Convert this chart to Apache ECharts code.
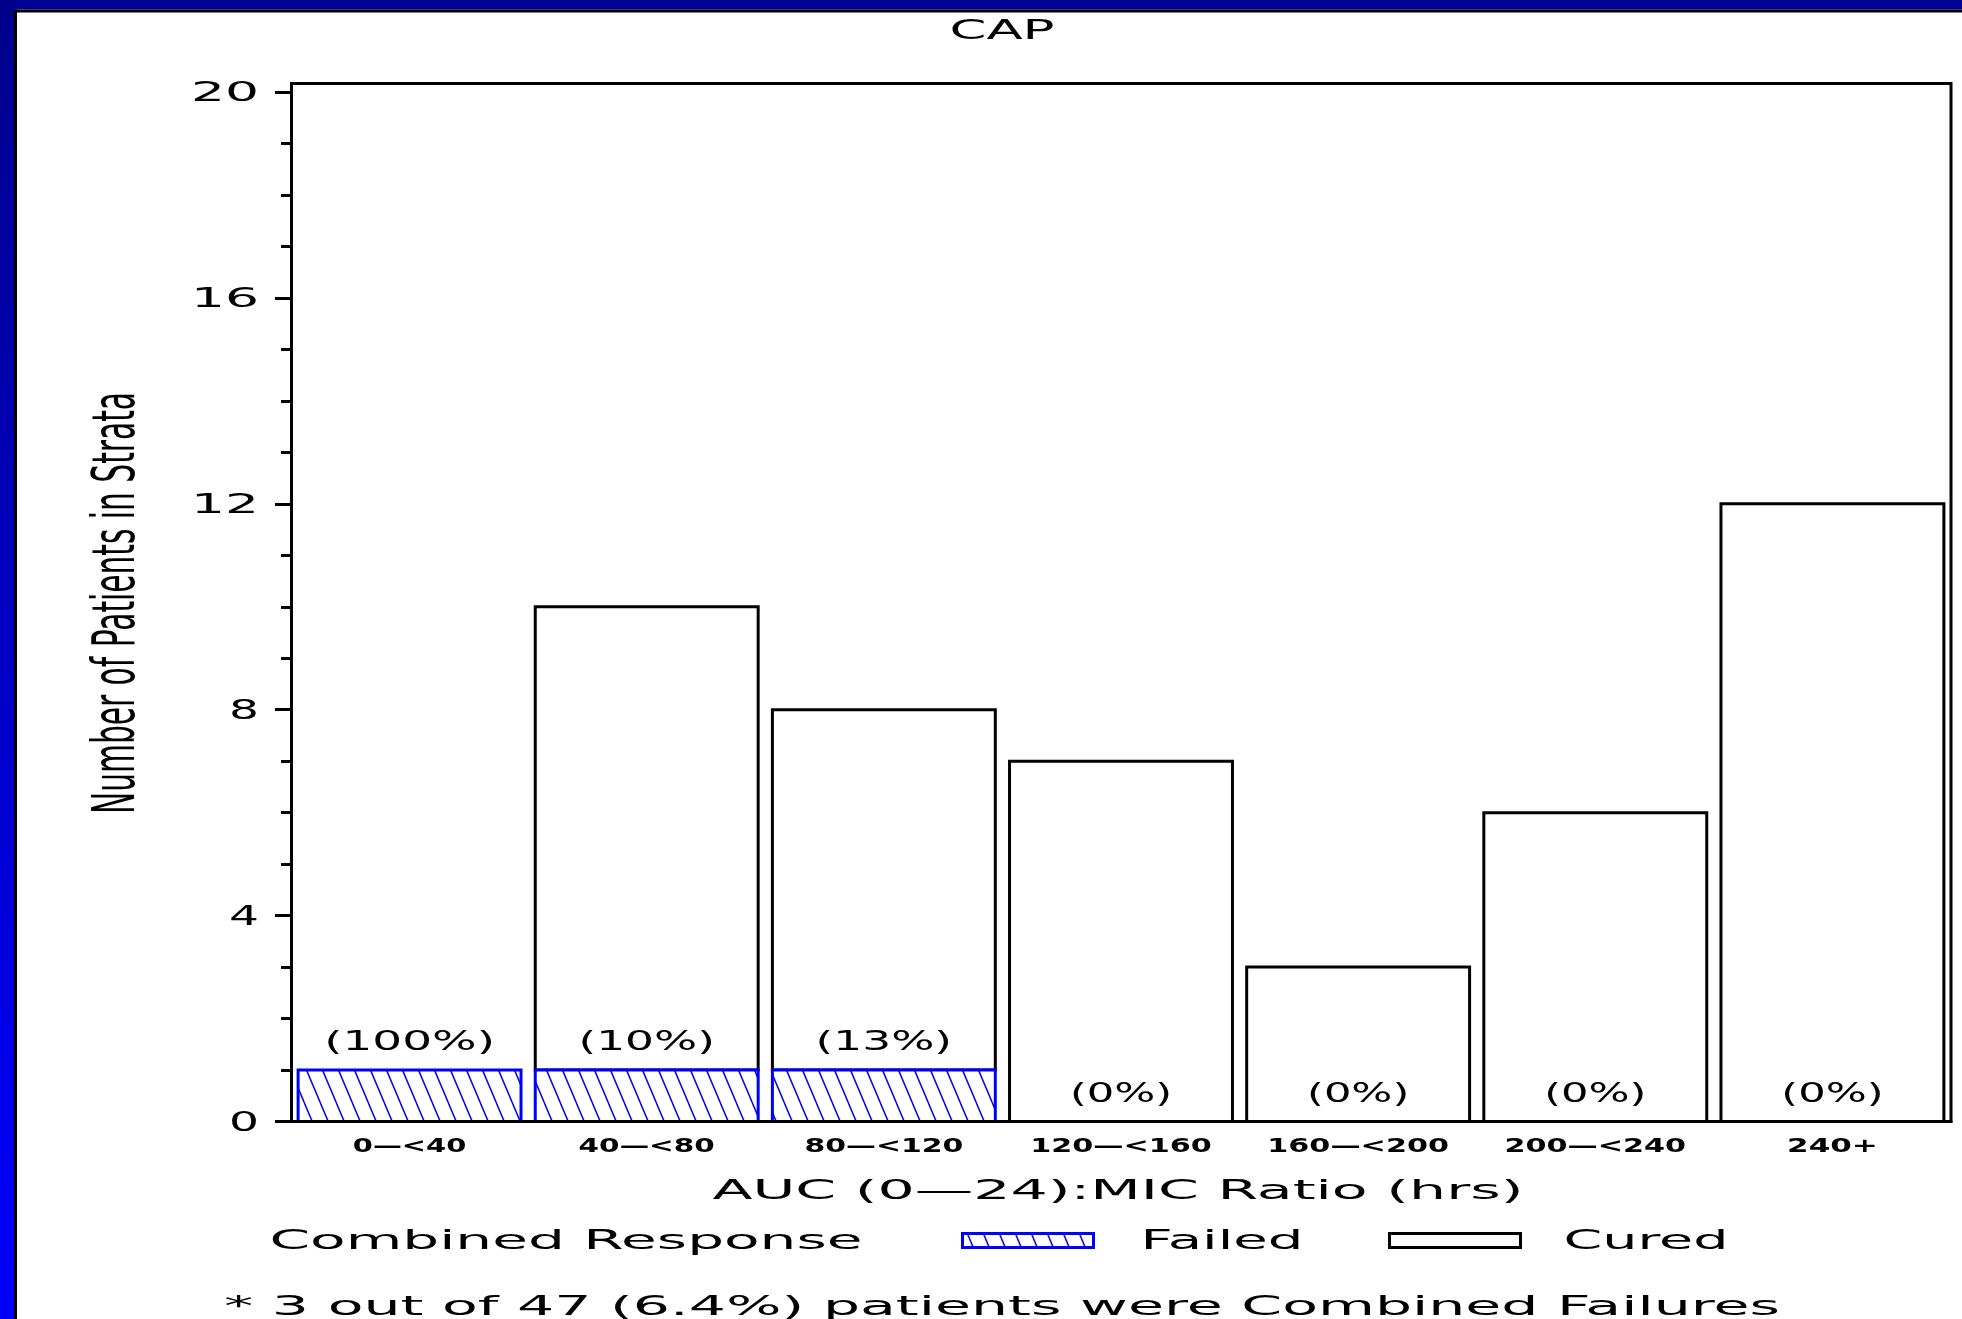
<!DOCTYPE html>
<html>
<head>
<meta charset="utf-8">
<title>CAP</title>
<script src="https://cdn.jsdelivr.net/npm/echarts@6/dist/echarts.min.js"></script>
<style>
  html, body { margin: 0; padding: 0; background: #fff; }
  #chart { width: 1962px; height: 1319px; }
</style>
</head>
<body>
<div id="chart"></div>
<script>
// AUC(0-24):MIC strata and patient counts per combined response
const categories = ['0—<40', '40—<80', '80—<120', '120—<160', '160—<200', '200—<240', '240+'];
const failed = [1, 1, 1, 0, 0, 0, 0];
const cured = [0, 9, 7, 7, 3, 6, 12];
const yTicks = [0, 4, 8, 12, 16, 20];

const FONT = "'DejaVu Sans', sans-serif";
const BLUE = '#0000ff';
const BAR_FRACTION = 0.94;   // share of each category band taken by its bar

// text measuring so the wide, blocky labels can be stretched to their cell width
const measureCtx = document.createElement('canvas').getContext('2d');
function textWidth(str, size, weight) {
  measureCtx.font = 'normal ' + (weight || 'normal') + ' ' + size + 'px ' + FONT;
  return measureCtx.measureText(str).width;
}
function stretchedText(str, x, y, width, size, weight, align, extra) {
  const w = textWidth(str, size, weight);
  return Object.assign({
    type: 'text',
    x: x, y: y,
    scaleX: width / w,
    silent: true,
    style: {
      text: str, fontSize: size, fontFamily: FONT, fontWeight: weight || 'normal',
      fill: '#000', align: align || 'center', verticalAlign: 'middle'
    }
  }, extra || {});
}

// diagonal hatch used for the "Failed" fill
function hatchCanvas() {
  const c = document.createElement('canvas');
  c.width = 16; c.height = 38;
  const g = c.getContext('2d');
  g.fillStyle = '#fff';
  g.fillRect(0, 0, c.width, c.height);
  g.strokeStyle = BLUE;
  g.lineWidth = 1.5;
  g.beginPath();
  [-16, 0, 16].forEach(function (dx) { g.moveTo(dx, 0); g.lineTo(dx + 16, 38); });
  g.stroke();
  return c;
}
const hatch = { image: hatchCanvas(), repeat: 'repeat' };

const totals = failed.map(function (f, i) { return f + cured[i]; });
const failedSum = failed.reduce(function (a, b) { return a + b; }, 0);
const patientSum = totals.reduce(function (a, b) { return a + b; }, 0);
const footnote = '* ' + failedSum + ' out of ' + patientSum + ' (' +
  (failedSum / patientSum * 100).toFixed(1) + '%) patients were Combined Failures';

// stacked segment of one stratum, outlined on its value edges
function segment(api, i, from, to, style) {
  if (to === from) return null;
  const w = api.size([1, 0])[0] * BAR_FRACTION;
  const a = api.coord([i, from]);
  const b = api.coord([i, to]);
  return {
    type: 'rect',
    shape: { x: a[0] - w / 2, y: b[1], width: w, height: a[1] - b[1] },
    style: style
  };
}

const chart = echarts.init(document.getElementById('chart'), null, { renderer: 'canvas' });

chart.setOption({
  animation: false,
  backgroundColor: '#fff',
  grid: { left: 291, right: 11, top: 92, bottom: 197.5 },
  xAxis: {
    type: 'category',
    data: categories,
    z: 5,
    axisLine: { show: true, lineStyle: { color: '#000', width: 3 } },
    axisTick: { show: false },
    axisLabel: { show: false },
    splitLine: { show: false }
  },
  yAxis: {
    type: 'value',
    min: 0, max: 20, interval: 4,
    z: 5,
    axisLine: { show: true, lineStyle: { color: '#000', width: 3 } },
    axisTick: { show: true, length: 16, lineStyle: { color: '#000', width: 3 } },
    minorTick: { show: true, splitNumber: 4, length: 10, lineStyle: { color: '#000', width: 3 } },
    axisLabel: { show: false },
    splitLine: { show: false }
  },
  series: [
    {
      name: 'Cured',
      type: 'custom',
      coordinateSystem: 'cartesian2d',
      z: 2,
      data: cured.map(function (c, i) { return [i, failed[i], failed[i] + c]; }),
      encode: { x: 0, y: [1, 2] },
      renderItem: function (params, api) {
        const i = params.dataIndex;
        return segment(api, i, failed[i], failed[i] + cured[i],
          { fill: '#fff', stroke: '#000', lineWidth: 3 });
      }
    },
    {
      name: 'Failed',
      type: 'custom',
      coordinateSystem: 'cartesian2d',
      z: 3,
      data: failed.map(function (f, i) { return [i, 0, f]; }),
      encode: { x: 0, y: [1, 2] },
      renderItem: function (params, api) {
        const i = params.dataIndex;
        return segment(api, i, 0, failed[i], { fill: hatch, stroke: BLUE, lineWidth: 3 });
      }
    },
    {
      // percentage of failures in each stratum, above the failed segment
      name: 'pct',
      type: 'custom',
      coordinateSystem: 'cartesian2d',
      silent: true,
      z: 10,
      data: failed.map(function (f, i) { return [i, f]; }),
      encode: { x: 0, y: 1 },
      renderItem: function (params, api) {
        const i = params.dataIndex;
        const p = api.coord([i, failed[i]]);
        const s = '(' + Math.round(failed[i] / totals[i] * 100) + '%)';
        return stretchedText(s, p[0], p[1] - 27, 34.3 * s.length - 35, 27, 'normal');
      }
    },
    {
      // stratum labels under the axis
      name: 'strata',
      type: 'custom',
      coordinateSystem: 'cartesian2d',
      silent: true,
      z: 10,
      data: categories.map(function (c, i) { return [i, 0]; }),
      encode: { x: 0, y: 1 },
      renderItem: function (params, api) {
        const i = params.dataIndex;
        const p = api.coord([i, 0]);
        const s = categories[i];
        return stretchedText(s, p[0], p[1] + 26, 22.7 * s.length, 19, 'bold');
      }
    },
    {
      // value-axis tick labels
      name: 'yticks',
      type: 'custom',
      coordinateSystem: 'cartesian2d',
      silent: true,
      z: 10,
      data: yTicks.map(function (v) { return [0, v]; }),
      encode: { x: 0, y: 1 },
      renderItem: function (params, api) {
        const v = yTicks[params.dataIndex];
        const p = api.coord([0, v]);
        const s = String(v);
        return stretchedText(s, params.coordSys.x - 32, p[1] + 2, 38 * s.length - 8, 27, 'normal', 'right');
      }
    }
  ],
  graphic: [
    // page edges
    { type: 'rect', z: 100, silent: true, shape: { x: 0, y: 0, width: 1962, height: 9.5 }, style: { fill: '#000092' } },
    { type: 'rect', z: 100, silent: true, shape: { x: 0, y: 9.5, width: 1962, height: 3 }, style: { fill: '#000' } },
    {
      type: 'rect', z: 101, silent: true, shape: { x: 0, y: 0, width: 14, height: 1319 },
      style: { fill: new echarts.graphic.LinearGradient(0, 0, 0, 1, [
        { offset: 0, color: '#00008c' }, { offset: 1, color: '#0000ff' }]) }
    },
    { type: 'rect', z: 101, silent: true, shape: { x: 14, y: 9.5, width: 3, height: 1309.5 }, style: { fill: '#000' } },
    // plot frame
    { type: 'rect', z: 50, silent: true, shape: { x: 291.5, y: 83.5, width: 1659.5, height: 1038 },
      style: { fill: null, stroke: '#000', lineWidth: 3 } },
    // titles
    stretchedText('CAP', 1002, 32, 105, 27, 'normal', 'center', { z: 60 }),
    stretchedText('AUC (0—24):MIC Ratio (hrs)', 1118, 1192, 811, 27, 'normal', 'center', { z: 60 }),
    stretchedText('Number of Patients in Strata', 119, 603, 422, 59, 'normal', 'center', { z: 60, rotation: Math.PI / 2 }),
    // legend
    stretchedText('Combined Response', 566, 1242, 593, 27, 'normal', 'center', { z: 60 }),
    { type: 'rect', z: 60, silent: true, shape: { x: 962.5, y: 1233.5, width: 131, height: 14 },
      style: { fill: hatch, stroke: BLUE, lineWidth: 3 } },
    stretchedText('Failed', 1222, 1242, 163, 27, 'normal', 'center', { z: 60 }),
    { type: 'rect', z: 60, silent: true, shape: { x: 1389.5, y: 1233.5, width: 131, height: 14 },
      style: { fill: '#fff', stroke: '#000', lineWidth: 3 } },
    stretchedText('Cured', 1646, 1242, 165, 27, 'normal', 'center', { z: 60 }),
    // footnote
    stretchedText(footnote, 1002, 1308, 1556, 26, 'normal', 'center', { z: 60 })
  ]
});
</script>
</body>
</html>
